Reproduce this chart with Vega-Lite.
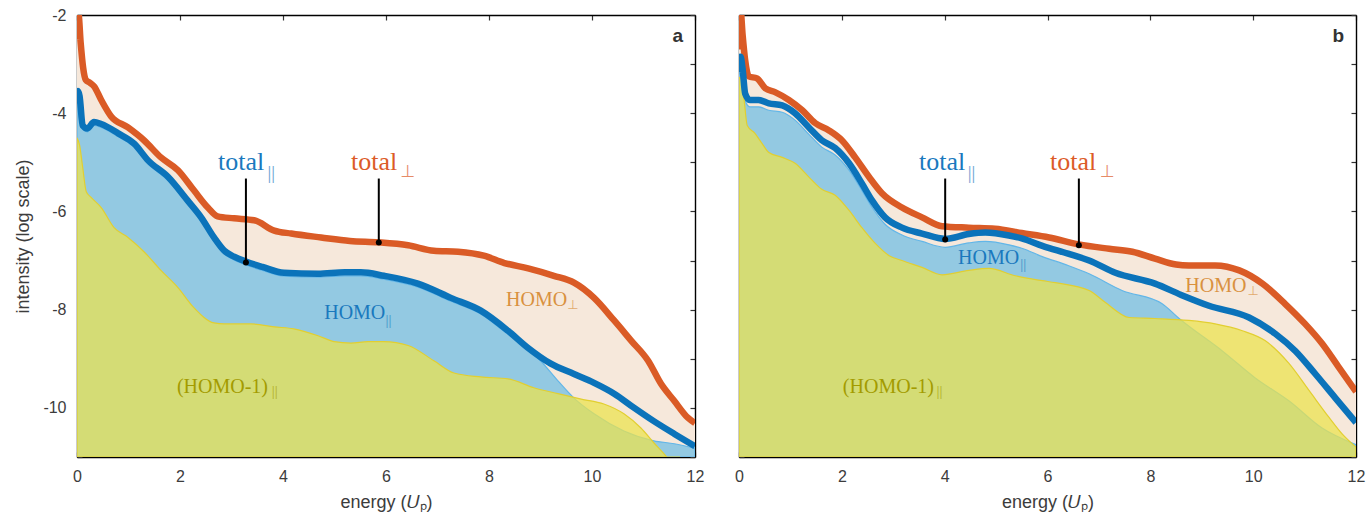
{
"$schema":"https://vega.github.io/schema/vega-lite/v6.json",
"background":"white",
"padding":{"left":14,"top":7,"right":5,"bottom":2},
"spacing":30,
"config":{
 "view":{"stroke":null},
 "axis":{"domainColor":"#000","domainWidth":1.4,"tickColor":"#333","tickSize":-5,"tickWidth":1.2,"labelFont":"Liberation Sans","labelFontSize":16,"labelColor":"#3c3c3c","titleFont":"Liberation Sans","titleFontSize":18,"titleColor":"#3c3c3c","titleFontWeight":"normal","grid":false,"labelPadding":16,"labelFlush":false}
},
"datasets":{
"curves":[
{"p":"a","s":"tperp","x":0,"y":-2.5},{"p":"a","s":"tperp","x":0.03,"y":-2.0},{"p":"a","s":"tperp","x":0.07,"y":-2.55},{"p":"a","s":"tperp","x":0.12,"y":-3.08},{"p":"a","s":"tperp","x":0.17,"y":-3.32},{"p":"a","s":"tperp","x":0.25,"y":-3.38},{"p":"a","s":"tperp","x":0.33,"y":-3.45},{"p":"a","s":"tperp","x":0.47,"y":-3.73},{"p":"a","s":"tperp","x":0.66,"y":-4.06},{"p":"a","s":"tperp","x":0.99,"y":-4.29},{"p":"a","s":"tperp","x":1.3,"y":-4.55},{"p":"a","s":"tperp","x":1.63,"y":-4.9},{"p":"a","s":"tperp","x":1.96,"y":-5.16},{"p":"a","s":"tperp","x":2.27,"y":-5.57},{"p":"a","s":"tperp","x":2.54,"y":-5.92},{"p":"a","s":"tperp","x":2.73,"y":-6.1},{"p":"a","s":"tperp","x":3.05,"y":-6.14},{"p":"a","s":"tperp","x":3.44,"y":-6.18},{"p":"a","s":"tperp","x":3.83,"y":-6.39},{"p":"a","s":"tperp","x":4.16,"y":-6.45},{"p":"a","s":"tperp","x":4.74,"y":-6.53},{"p":"a","s":"tperp","x":5.3,"y":-6.6},{"p":"a","s":"tperp","x":5.86,"y":-6.63},{"p":"a","s":"tperp","x":6.43,"y":-6.69},{"p":"a","s":"tperp","x":6.93,"y":-6.8},{"p":"a","s":"tperp","x":7.4,"y":-6.82},{"p":"a","s":"tperp","x":7.9,"y":-6.9},{"p":"a","s":"tperp","x":8.3,"y":-7.05},{"p":"a","s":"tperp","x":8.76,"y":-7.16},{"p":"a","s":"tperp","x":9.26,"y":-7.31},{"p":"a","s":"tperp","x":9.65,"y":-7.45},{"p":"a","s":"tperp","x":10.04,"y":-7.76},{"p":"a","s":"tperp","x":10.43,"y":-8.22},{"p":"a","s":"tperp","x":10.76,"y":-8.63},{"p":"a","s":"tperp","x":11.09,"y":-9.04},{"p":"a","s":"tperp","x":11.34,"y":-9.51},{"p":"a","s":"tperp","x":11.6,"y":-9.86},{"p":"a","s":"tperp","x":11.86,"y":-10.2},{"p":"a","s":"tperp","x":12,"y":-10.31},
{"p":"a","s":"tpar","x":0,"y":-3.8},{"p":"a","s":"tpar","x":0.02,"y":-3.55},{"p":"a","s":"tpar","x":0.05,"y":-3.65},{"p":"a","s":"tpar","x":0.11,"y":-4.25},{"p":"a","s":"tpar","x":0.2,"y":-4.31},{"p":"a","s":"tpar","x":0.33,"y":-4.18},{"p":"a","s":"tpar","x":0.47,"y":-4.22},{"p":"a","s":"tpar","x":0.8,"y":-4.41},{"p":"a","s":"tpar","x":1.11,"y":-4.62},{"p":"a","s":"tpar","x":1.38,"y":-4.96},{"p":"a","s":"tpar","x":1.77,"y":-5.3},{"p":"a","s":"tpar","x":2.15,"y":-5.78},{"p":"a","s":"tpar","x":2.41,"y":-6.12},{"p":"a","s":"tpar","x":2.66,"y":-6.53},{"p":"a","s":"tpar","x":2.86,"y":-6.8},{"p":"a","s":"tpar","x":3.05,"y":-6.92},{"p":"a","s":"tpar","x":3.28,"y":-7.02},{"p":"a","s":"tpar","x":3.6,"y":-7.13},{"p":"a","s":"tpar","x":4.02,"y":-7.25},{"p":"a","s":"tpar","x":4.68,"y":-7.27},{"p":"a","s":"tpar","x":5.2,"y":-7.24},{"p":"a","s":"tpar","x":5.51,"y":-7.24},{"p":"a","s":"tpar","x":5.96,"y":-7.31},{"p":"a","s":"tpar","x":6.62,"y":-7.47},{"p":"a","s":"tpar","x":7.26,"y":-7.76},{"p":"a","s":"tpar","x":7.84,"y":-8.02},{"p":"a","s":"tpar","x":8.37,"y":-8.43},{"p":"a","s":"tpar","x":8.76,"y":-8.78},{"p":"a","s":"tpar","x":9.2,"y":-9.1},{"p":"a","s":"tpar","x":9.65,"y":-9.31},{"p":"a","s":"tpar","x":10.04,"y":-9.49},{"p":"a","s":"tpar","x":10.43,"y":-9.71},{"p":"a","s":"tpar","x":10.82,"y":-10.0},{"p":"a","s":"tpar","x":11.2,"y":-10.27},{"p":"a","s":"tpar","x":11.6,"y":-10.53},{"p":"a","s":"tpar","x":12,"y":-10.78},
{"p":"a","s":"hpar","x":0,"y":-3.9},{"p":"a","s":"hpar","x":0.02,"y":-3.62},{"p":"a","s":"hpar","x":0.05,"y":-3.72},{"p":"a","s":"hpar","x":0.11,"y":-4.33},{"p":"a","s":"hpar","x":0.2,"y":-4.38},{"p":"a","s":"hpar","x":0.33,"y":-4.25},{"p":"a","s":"hpar","x":0.47,"y":-4.29},{"p":"a","s":"hpar","x":0.8,"y":-4.48},{"p":"a","s":"hpar","x":1.11,"y":-4.69},{"p":"a","s":"hpar","x":1.38,"y":-5.03},{"p":"a","s":"hpar","x":1.77,"y":-5.37},{"p":"a","s":"hpar","x":2.15,"y":-5.85},{"p":"a","s":"hpar","x":2.41,"y":-6.19},{"p":"a","s":"hpar","x":2.66,"y":-6.6},{"p":"a","s":"hpar","x":2.86,"y":-6.87},{"p":"a","s":"hpar","x":3.05,"y":-6.99},{"p":"a","s":"hpar","x":3.28,"y":-7.09},{"p":"a","s":"hpar","x":3.6,"y":-7.2},{"p":"a","s":"hpar","x":4.02,"y":-7.32},{"p":"a","s":"hpar","x":4.68,"y":-7.34},{"p":"a","s":"hpar","x":5.2,"y":-7.31},{"p":"a","s":"hpar","x":5.51,"y":-7.31},{"p":"a","s":"hpar","x":5.96,"y":-7.38},{"p":"a","s":"hpar","x":6.62,"y":-7.54},{"p":"a","s":"hpar","x":7.26,"y":-7.83},{"p":"a","s":"hpar","x":7.84,"y":-8.09},{"p":"a","s":"hpar","x":8.37,"y":-8.5},{"p":"a","s":"hpar","x":8.62,"y":-8.68},{"p":"a","s":"hpar","x":9.0,"y":-9.04},{"p":"a","s":"hpar","x":9.34,"y":-9.45},{"p":"a","s":"hpar","x":9.65,"y":-9.8},{"p":"a","s":"hpar","x":10.04,"y":-10.12},{"p":"a","s":"hpar","x":10.62,"y":-10.47},{"p":"a","s":"hpar","x":11.2,"y":-10.67},{"p":"a","s":"hpar","x":11.6,"y":-10.73},{"p":"a","s":"hpar","x":12,"y":-10.82},
{"p":"a","s":"h1","x":0,"y":-4.5},{"p":"a","s":"h1","x":0.05,"y":-4.65},{"p":"a","s":"h1","x":0.11,"y":-5.1},{"p":"a","s":"h1","x":0.18,"y":-5.6},{"p":"a","s":"h1","x":0.27,"y":-5.71},{"p":"a","s":"h1","x":0.47,"y":-5.92},{"p":"a","s":"h1","x":0.72,"y":-6.33},{"p":"a","s":"h1","x":0.99,"y":-6.53},{"p":"a","s":"h1","x":1.3,"y":-6.82},{"p":"a","s":"h1","x":1.63,"y":-7.2},{"p":"a","s":"h1","x":1.96,"y":-7.55},{"p":"a","s":"h1","x":2.27,"y":-7.96},{"p":"a","s":"h1","x":2.66,"y":-8.27},{"p":"a","s":"h1","x":2.86,"y":-8.29},{"p":"a","s":"h1","x":3.38,"y":-8.29},{"p":"a","s":"h1","x":3.83,"y":-8.35},{"p":"a","s":"h1","x":4.21,"y":-8.39},{"p":"a","s":"h1","x":4.68,"y":-8.53},{"p":"a","s":"h1","x":4.99,"y":-8.65},{"p":"a","s":"h1","x":5.32,"y":-8.68},{"p":"a","s":"h1","x":5.65,"y":-8.65},{"p":"a","s":"h1","x":5.96,"y":-8.65},{"p":"a","s":"h1","x":6.43,"y":-8.73},{"p":"a","s":"h1","x":6.93,"y":-9.04},{"p":"a","s":"h1","x":7.32,"y":-9.29},{"p":"a","s":"h1","x":7.84,"y":-9.37},{"p":"a","s":"h1","x":8.37,"y":-9.41},{"p":"a","s":"h1","x":8.87,"y":-9.59},{"p":"a","s":"h1","x":9.34,"y":-9.71},{"p":"a","s":"h1","x":9.79,"y":-9.82},{"p":"a","s":"h1","x":10.23,"y":-9.92},{"p":"a","s":"h1","x":10.62,"y":-10.12},{"p":"a","s":"h1","x":10.95,"y":-10.41},{"p":"a","s":"h1","x":11.2,"y":-10.71},{"p":"a","s":"h1","x":11.48,"y":-11.04},{"p":"a","s":"h1","x":11.7,"y":-11.4},
{"p":"b","s":"tperp","x":0,"y":-2.7},{"p":"b","s":"tperp","x":0.03,"y":-1.9},{"p":"b","s":"tperp","x":0.07,"y":-2.4},{"p":"b","s":"tperp","x":0.12,"y":-2.92},{"p":"b","s":"tperp","x":0.19,"y":-3.25},{"p":"b","s":"tperp","x":0.35,"y":-3.29},{"p":"b","s":"tperp","x":0.51,"y":-3.49},{"p":"b","s":"tperp","x":0.7,"y":-3.57},{"p":"b","s":"tperp","x":0.97,"y":-3.73},{"p":"b","s":"tperp","x":1.23,"y":-3.94},{"p":"b","s":"tperp","x":1.48,"y":-4.2},{"p":"b","s":"tperp","x":1.75,"y":-4.35},{"p":"b","s":"tperp","x":2.0,"y":-4.55},{"p":"b","s":"tperp","x":2.26,"y":-4.9},{"p":"b","s":"tperp","x":2.53,"y":-5.3},{"p":"b","s":"tperp","x":2.78,"y":-5.63},{"p":"b","s":"tperp","x":3.17,"y":-5.92},{"p":"b","s":"tperp","x":3.56,"y":-6.12},{"p":"b","s":"tperp","x":3.95,"y":-6.3},{"p":"b","s":"tperp","x":4.47,"y":-6.33},{"p":"b","s":"tperp","x":4.98,"y":-6.35},{"p":"b","s":"tperp","x":5.5,"y":-6.44},{"p":"b","s":"tperp","x":6.03,"y":-6.53},{"p":"b","s":"tperp","x":6.61,"y":-6.67},{"p":"b","s":"tperp","x":7.2,"y":-6.76},{"p":"b","s":"tperp","x":7.65,"y":-6.82},{"p":"b","s":"tperp","x":8.09,"y":-6.96},{"p":"b","s":"tperp","x":8.5,"y":-7.08},{"p":"b","s":"tperp","x":8.75,"y":-7.1},{"p":"b","s":"tperp","x":9.26,"y":-7.1},{"p":"b","s":"tperp","x":9.73,"y":-7.2},{"p":"b","s":"tperp","x":10.18,"y":-7.47},{"p":"b","s":"tperp","x":10.62,"y":-7.88},{"p":"b","s":"tperp","x":11.01,"y":-8.29},{"p":"b","s":"tperp","x":11.34,"y":-8.69},{"p":"b","s":"tperp","x":11.67,"y":-9.18},{"p":"b","s":"tperp","x":12,"y":-9.67},
{"p":"b","s":"tpar","x":0,"y":-3.16},{"p":"b","s":"tpar","x":0.03,"y":-2.85},{"p":"b","s":"tpar","x":0.07,"y":-3.1},{"p":"b","s":"tpar","x":0.12,"y":-3.6},{"p":"b","s":"tpar","x":0.21,"y":-3.73},{"p":"b","s":"tpar","x":0.38,"y":-3.73},{"p":"b","s":"tpar","x":0.58,"y":-3.8},{"p":"b","s":"tpar","x":0.84,"y":-3.84},{"p":"b","s":"tpar","x":1.09,"y":-4.0},{"p":"b","s":"tpar","x":1.36,"y":-4.29},{"p":"b","s":"tpar","x":1.61,"y":-4.55},{"p":"b","s":"tpar","x":1.87,"y":-4.71},{"p":"b","s":"tpar","x":2.14,"y":-5.02},{"p":"b","s":"tpar","x":2.39,"y":-5.43},{"p":"b","s":"tpar","x":2.59,"y":-5.78},{"p":"b","s":"tpar","x":2.84,"y":-6.12},{"p":"b","s":"tpar","x":3.17,"y":-6.33},{"p":"b","s":"tpar","x":3.56,"y":-6.45},{"p":"b","s":"tpar","x":4.01,"y":-6.56},{"p":"b","s":"tpar","x":4.47,"y":-6.46},{"p":"b","s":"tpar","x":4.79,"y":-6.43},{"p":"b","s":"tpar","x":5.25,"y":-6.49},{"p":"b","s":"tpar","x":5.5,"y":-6.55},{"p":"b","s":"tpar","x":5.9,"y":-6.7},{"p":"b","s":"tpar","x":6.4,"y":-6.86},{"p":"b","s":"tpar","x":6.81,"y":-7.0},{"p":"b","s":"tpar","x":7.32,"y":-7.25},{"p":"b","s":"tpar","x":8.09,"y":-7.47},{"p":"b","s":"tpar","x":8.6,"y":-7.7},{"p":"b","s":"tpar","x":9.14,"y":-7.92},{"p":"b","s":"tpar","x":9.92,"y":-8.16},{"p":"b","s":"tpar","x":10.43,"y":-8.49},{"p":"b","s":"tpar","x":10.82,"y":-8.84},{"p":"b","s":"tpar","x":11.21,"y":-9.31},{"p":"b","s":"tpar","x":11.6,"y":-9.8},{"p":"b","s":"tpar","x":12,"y":-10.3},
{"p":"b","s":"hpar","x":0,"y":-3.3},{"p":"b","s":"hpar","x":0.03,"y":-3.0},{"p":"b","s":"hpar","x":0.07,"y":-3.25},{"p":"b","s":"hpar","x":0.12,"y":-3.74},{"p":"b","s":"hpar","x":0.21,"y":-3.87},{"p":"b","s":"hpar","x":0.38,"y":-3.87},{"p":"b","s":"hpar","x":0.58,"y":-3.94},{"p":"b","s":"hpar","x":0.84,"y":-3.98},{"p":"b","s":"hpar","x":1.09,"y":-4.14},{"p":"b","s":"hpar","x":1.36,"y":-4.43},{"p":"b","s":"hpar","x":1.61,"y":-4.69},{"p":"b","s":"hpar","x":1.87,"y":-4.85},{"p":"b","s":"hpar","x":2.14,"y":-5.16},{"p":"b","s":"hpar","x":2.39,"y":-5.57},{"p":"b","s":"hpar","x":2.59,"y":-5.92},{"p":"b","s":"hpar","x":2.84,"y":-6.26},{"p":"b","s":"hpar","x":3.17,"y":-6.48},{"p":"b","s":"hpar","x":3.56,"y":-6.61},{"p":"b","s":"hpar","x":4.01,"y":-6.73},{"p":"b","s":"hpar","x":4.47,"y":-6.64},{"p":"b","s":"hpar","x":4.79,"y":-6.61},{"p":"b","s":"hpar","x":5.25,"y":-6.68},{"p":"b","s":"hpar","x":5.5,"y":-6.75},{"p":"b","s":"hpar","x":5.9,"y":-6.92},{"p":"b","s":"hpar","x":6.4,"y":-7.1},{"p":"b","s":"hpar","x":6.81,"y":-7.27},{"p":"b","s":"hpar","x":7.45,"y":-7.61},{"p":"b","s":"hpar","x":8.23,"y":-7.88},{"p":"b","s":"hpar","x":8.56,"y":-8.18},{"p":"b","s":"hpar","x":9.4,"y":-8.84},{"p":"b","s":"hpar","x":10.04,"y":-9.39},{"p":"b","s":"hpar","x":10.7,"y":-9.86},{"p":"b","s":"hpar","x":11.34,"y":-10.41},{"p":"b","s":"hpar","x":12,"y":-10.75},
{"p":"b","s":"h1","x":0,"y":-3.27},{"p":"b","s":"h1","x":0.05,"y":-3.3},{"p":"b","s":"h1","x":0.1,"y":-3.73},{"p":"b","s":"h1","x":0.16,"y":-4.25},{"p":"b","s":"h1","x":0.31,"y":-4.41},{"p":"b","s":"h1","x":0.45,"y":-4.62},{"p":"b","s":"h1","x":0.58,"y":-4.8},{"p":"b","s":"h1","x":0.84,"y":-4.9},{"p":"b","s":"h1","x":1.09,"y":-5.02},{"p":"b","s":"h1","x":1.36,"y":-5.3},{"p":"b","s":"h1","x":1.61,"y":-5.55},{"p":"b","s":"h1","x":1.87,"y":-5.67},{"p":"b","s":"h1","x":2.14,"y":-5.98},{"p":"b","s":"h1","x":2.39,"y":-6.33},{"p":"b","s":"h1","x":2.65,"y":-6.65},{"p":"b","s":"h1","x":2.92,"y":-6.9},{"p":"b","s":"h1","x":3.17,"y":-7.0},{"p":"b","s":"h1","x":3.56,"y":-7.14},{"p":"b","s":"h1","x":3.95,"y":-7.29},{"p":"b","s":"h1","x":4.47,"y":-7.2},{"p":"b","s":"h1","x":4.86,"y":-7.16},{"p":"b","s":"h1","x":5.37,"y":-7.31},{"p":"b","s":"h1","x":5.9,"y":-7.41},{"p":"b","s":"h1","x":6.15,"y":-7.45},{"p":"b","s":"h1","x":6.81,"y":-7.61},{"p":"b","s":"h1","x":7.12,"y":-7.85},{"p":"b","s":"h1","x":7.59,"y":-8.16},{"p":"b","s":"h1","x":8.09,"y":-8.18},{"p":"b","s":"h1","x":8.75,"y":-8.22},{"p":"b","s":"h1","x":9.26,"y":-8.29},{"p":"b","s":"h1","x":9.79,"y":-8.43},{"p":"b","s":"h1","x":10.23,"y":-8.63},{"p":"b","s":"h1","x":10.7,"y":-9.1},{"p":"b","s":"h1","x":11.09,"y":-9.65},{"p":"b","s":"h1","x":11.48,"y":-10.2},{"p":"b","s":"h1","x":11.73,"y":-10.53},{"p":"b","s":"h1","x":12,"y":-10.8}
],
"labels":[
{"p":"a","g":"big","k":"par","t":"total","x":2.74,"y":-5.16},{"p":"a","g":"big","k":"perp","t":"total","x":5.32,"y":-5.16},
{"p":"b","g":"big","k":"par","t":"total","x":3.5,"y":-5.16},{"p":"b","g":"big","k":"perp","t":"total","x":6.05,"y":-5.16},
{"p":"a","g":"bigbar","k":"par","t":"||","x":3.7,"y":-5.33},{"p":"b","g":"bigbar","k":"par","t":"||","x":4.45,"y":-5.33},
{"p":"a","g":"bigperp","k":"perp","t":"⊥","x":6.28,"y":-5.29},{"p":"b","g":"bigperp","k":"perp","t":"⊥","x":7.02,"y":-5.29},
{"p":"a","g":"mid","k":"par","t":"HOMO","x":4.8,"y":-8.18},{"p":"a","g":"mid","k":"hperp","t":"HOMO","x":8.33,"y":-7.92},{"p":"a","g":"mid","k":"h1","t":"(HOMO-1)","x":1.94,"y":-9.69},
{"p":"b","g":"mid","k":"par","t":"HOMO","x":4.26,"y":-7.06},{"p":"b","g":"mid","k":"hperp","t":"HOMO","x":8.68,"y":-7.65},{"p":"b","g":"mid","k":"h1","t":"(HOMO-1)","x":2.02,"y":-9.69},
{"p":"a","g":"midbar","k":"par","t":"||","x":5.99,"y":-8.31},{"p":"a","g":"midbar","k":"h1","t":"||","x":3.78,"y":-9.76},
{"p":"b","g":"midbar","k":"par","t":"||","x":5.47,"y":-7.18},{"p":"b","g":"midbar","k":"h1","t":"||","x":3.84,"y":-9.76},
{"p":"a","g":"midperp","k":"hperp","t":"⊥","x":9.52,"y":-7.98},{"p":"b","g":"midperp","k":"hperp","t":"⊥","x":9.89,"y":-7.71},
{"p":"a","g":"panel","k":"panel","t":"a","x":11.77,"y":-2.55},{"p":"b","g":"panel","k":"panel","t":"b","x":11.77,"y":-2.55}
],
"leaders":[
{"p":"a","x":3.28,"y1":-5.33,"y2":-7.04},{"p":"a","x":5.86,"y1":-5.33,"y2":-6.63},
{"p":"b","x":4.01,"y1":-5.33,"y2":-6.57},{"p":"b","x":6.61,"y1":-5.33,"y2":-6.69}
]
},
"hconcat":[
{
"width":618,"height":442,
"resolve":{"axis":{"x":"independent","y":"independent"}},
"layer":[
{"data":{"name":"curves"},"transform":[{"filter":"datum.p=='a' && datum.s=='tperp'"}],
 "mark":{"type":"area","color":"#F6E8DB","interpolate":"monotone","clip":true},
 "encoding":{
  "x":{"field":"x","type":"quantitative","scale":{"domain":[0,12],"nice":false},"axis":{"orient":"bottom","values":[0,2,4,6,8,10,12],"title":"energy (𝑈ₚ)","titlePadding":9}},
  "y":{"field":"y","type":"quantitative","scale":{"domain":[-11,-2],"nice":false,"zero":false},"axis":{"orient":"left","values":[-11,-10,-9,-8,-7,-6,-5,-4,-3,-2],"labelExpr":"datum.value % 2 == 0 ? replace(datum.label, '\u2212', '-') : ''","title":"intensity (log scale)","titlePadding":10}},
  "y2":{"datum":-11}}},
{"data":{"name":"curves"},"transform":[{"filter":"datum.p=='a' && datum.s=='hpar'"}],
 "mark":{"type":"area","color":"#93C9E2","stroke":"#62B6E8","strokeWidth":1.2,"interpolate":"monotone","clip":true},
 "encoding":{
  "x":{"field":"x","type":"quantitative","scale":{"domain":[0,12],"nice":false},"axis":{"orient":"top","values":[0,2,4,6,8,10,12],"labels":false,"title":null}},
  "y":{"field":"y","type":"quantitative","scale":{"domain":[-11,-2],"nice":false,"zero":false},"axis":{"orient":"right","values":[-11,-10,-9,-8,-7,-6,-5,-4,-3,-2],"labels":false,"title":null}},
  "y2":{"datum":-11}}},
{"data":{"name":"curves"},"transform":[{"filter":"datum.p=='a' && datum.s=='h1'"}],
 "mark":{"type":"area","color":"#EBE24E","fillOpacity":0.74,"stroke":"#E2CF30","strokeWidth":1.2,"interpolate":"monotone","clip":true},
 "encoding":{
  "x":{"field":"x","type":"quantitative","scale":{"domain":[0,12],"nice":false},"axis":null},
  "y":{"field":"y","type":"quantitative","scale":{"domain":[-11,-2],"nice":false,"zero":false},"axis":null},
  "y2":{"datum":-11}}},
{"data":{"name":"curves"},"transform":[{"filter":"datum.p=='a' && datum.s=='tperp'"}],
 "mark":{"type":"line","color":"#DA5B26","strokeWidth":6.5,"interpolate":"monotone","clip":true},
 "encoding":{
  "x":{"field":"x","type":"quantitative","scale":{"domain":[0,12],"nice":false},"axis":null},
  "y":{"field":"y","type":"quantitative","scale":{"domain":[-11,-2],"nice":false,"zero":false},"axis":null}}},
{"data":{"name":"curves"},"transform":[{"filter":"datum.p=='a' && datum.s=='tpar'"}],
 "mark":{"type":"line","color":"#0B73BA","strokeWidth":6.5,"interpolate":"monotone","clip":true},
 "encoding":{
  "x":{"field":"x","type":"quantitative","scale":{"domain":[0,12],"nice":false},"axis":null},
  "y":{"field":"y","type":"quantitative","scale":{"domain":[-11,-2],"nice":false,"zero":false},"axis":null}}},
{"data":{"name":"leaders"},"transform":[{"filter":"datum.p=='a'"}],
 "mark":{"type":"rule","color":"#000","strokeWidth":2},
 "encoding":{
  "x":{"field":"x","type":"quantitative","scale":{"domain":[0,12],"nice":false},"axis":null},
  "y":{"field":"y1","type":"quantitative","scale":{"domain":[-11,-2],"nice":false,"zero":false},"axis":null},
  "y2":{"field":"y2"}}},
{"data":{"name":"leaders"},"transform":[{"filter":"datum.p=='a'"}],
 "mark":{"type":"point","filled":true,"color":"#000","size":36,"opacity":1},
 "encoding":{
  "x":{"field":"x","type":"quantitative","scale":{"domain":[0,12],"nice":false},"axis":null},
  "y":{"field":"y2","type":"quantitative","scale":{"domain":[-11,-2],"nice":false,"zero":false},"axis":null}}},
{"data":{"name":"labels"},"transform":[{"filter":"datum.p=='a' && datum.g=='big'"}],
 "mark":{"type":"text","font":"Liberation Serif","fontSize":26,"align":"left","baseline":"alphabetic"},
 "encoding":{
  "x":{"field":"x","type":"quantitative","scale":{"domain":[0,12],"nice":false},"axis":null},
  "y":{"field":"y","type":"quantitative","scale":{"domain":[-11,-2],"nice":false,"zero":false},"axis":null},
  "text":{"field":"t"},
  "color":{"field":"k","type":"nominal","scale":{"domain":["par","perp","hperp","h1","panel"],"range":["#1A79BE","#DC5B27","#D9913F","#A39B00","#333333"]},"legend":null}}},
{"data":{"name":"labels"},"transform":[{"filter":"datum.p=='a' && datum.g=='bigbar'"}],
 "mark":{"type":"text","font":"Liberation Serif","fontSize":19,"align":"left","baseline":"alphabetic","opacity":0.7},
 "encoding":{
  "x":{"field":"x","type":"quantitative","scale":{"domain":[0,12],"nice":false},"axis":null},
  "y":{"field":"y","type":"quantitative","scale":{"domain":[-11,-2],"nice":false,"zero":false},"axis":null},
  "text":{"field":"t"},
  "color":{"field":"k","type":"nominal","legend":null}}},
{"data":{"name":"labels"},"transform":[{"filter":"datum.p=='a' && datum.g=='bigperp'"}],
 "mark":{"type":"text","font":"DejaVu Sans","fontSize":17,"align":"left","baseline":"alphabetic","opacity":0.7},
 "encoding":{
  "x":{"field":"x","type":"quantitative","scale":{"domain":[0,12],"nice":false},"axis":null},
  "y":{"field":"y","type":"quantitative","scale":{"domain":[-11,-2],"nice":false,"zero":false},"axis":null},
  "text":{"field":"t"},
  "color":{"field":"k","type":"nominal","legend":null}}},
{"data":{"name":"labels"},"transform":[{"filter":"datum.p=='a' && datum.g=='mid'"}],
 "mark":{"type":"text","font":"Liberation Serif","fontSize":20,"align":"left","baseline":"alphabetic"},
 "encoding":{
  "x":{"field":"x","type":"quantitative","scale":{"domain":[0,12],"nice":false},"axis":null},
  "y":{"field":"y","type":"quantitative","scale":{"domain":[-11,-2],"nice":false,"zero":false},"axis":null},
  "text":{"field":"t"},
  "color":{"field":"k","type":"nominal","legend":null}}},
{"data":{"name":"labels"},"transform":[{"filter":"datum.p=='a' && datum.g=='midbar'"}],
 "mark":{"type":"text","font":"Liberation Serif","fontSize":15,"align":"left","baseline":"alphabetic","opacity":0.7},
 "encoding":{
  "x":{"field":"x","type":"quantitative","scale":{"domain":[0,12],"nice":false},"axis":null},
  "y":{"field":"y","type":"quantitative","scale":{"domain":[-11,-2],"nice":false,"zero":false},"axis":null},
  "text":{"field":"t"},
  "color":{"field":"k","type":"nominal","legend":null}}},
{"data":{"name":"labels"},"transform":[{"filter":"datum.p=='a' && datum.g=='midperp'"}],
 "mark":{"type":"text","font":"DejaVu Sans","fontSize":13,"align":"left","baseline":"alphabetic","opacity":0.7},
 "encoding":{
  "x":{"field":"x","type":"quantitative","scale":{"domain":[0,12],"nice":false},"axis":null},
  "y":{"field":"y","type":"quantitative","scale":{"domain":[-11,-2],"nice":false,"zero":false},"axis":null},
  "text":{"field":"t"},
  "color":{"field":"k","type":"nominal","legend":null}}},
{"data":{"name":"labels"},"transform":[{"filter":"datum.p=='a' && datum.g=='panel'"}],
 "mark":{"type":"text","font":"Liberation Sans","fontSize":19,"fontWeight":"bold","align":"right","baseline":"alphabetic"},
 "encoding":{
  "x":{"field":"x","type":"quantitative","scale":{"domain":[0,12],"nice":false},"axis":null},
  "y":{"field":"y","type":"quantitative","scale":{"domain":[-11,-2],"nice":false,"zero":false},"axis":null},
  "text":{"field":"t"},
  "color":{"field":"k","type":"nominal","legend":null}}}
]
},
{
"width":617,"height":442,
"resolve":{"axis":{"x":"independent","y":"independent"}},
"layer":[
{"data":{"name":"curves"},"transform":[{"filter":"datum.p=='b' && datum.s=='tperp'"}],
 "mark":{"type":"area","color":"#F6E8DB","interpolate":"monotone","clip":true},
 "encoding":{
  "x":{"field":"x","type":"quantitative","scale":{"domain":[0,12],"nice":false},"axis":{"orient":"bottom","values":[0,2,4,6,8,10,12],"title":"energy (𝑈ₚ)","titlePadding":9}},
  "y":{"field":"y","type":"quantitative","scale":{"domain":[-11,-2],"nice":false,"zero":false},"axis":{"orient":"left","values":[-11,-10,-9,-8,-7,-6,-5,-4,-3,-2],"labels":false,"title":null}},
  "y2":{"datum":-11}}},
{"data":{"name":"curves"},"transform":[{"filter":"datum.p=='b' && datum.s=='hpar'"}],
 "mark":{"type":"area","color":"#93C9E2","stroke":"#62B6E8","strokeWidth":1.2,"interpolate":"monotone","clip":true},
 "encoding":{
  "x":{"field":"x","type":"quantitative","scale":{"domain":[0,12],"nice":false},"axis":{"orient":"top","values":[0,2,4,6,8,10,12],"labels":false,"title":null}},
  "y":{"field":"y","type":"quantitative","scale":{"domain":[-11,-2],"nice":false,"zero":false},"axis":{"orient":"right","values":[-11,-10,-9,-8,-7,-6,-5,-4,-3,-2],"labels":false,"title":null}},
  "y2":{"datum":-11}}},
{"data":{"name":"curves"},"transform":[{"filter":"datum.p=='b' && datum.s=='h1'"}],
 "mark":{"type":"area","color":"#EBE24E","fillOpacity":0.74,"stroke":"#E2CF30","strokeWidth":1.2,"interpolate":"monotone","clip":true},
 "encoding":{
  "x":{"field":"x","type":"quantitative","scale":{"domain":[0,12],"nice":false},"axis":null},
  "y":{"field":"y","type":"quantitative","scale":{"domain":[-11,-2],"nice":false,"zero":false},"axis":null},
  "y2":{"datum":-11}}},
{"data":{"name":"curves"},"transform":[{"filter":"datum.p=='b' && datum.s=='tperp'"}],
 "mark":{"type":"line","color":"#DA5B26","strokeWidth":6.5,"interpolate":"monotone","clip":true},
 "encoding":{
  "x":{"field":"x","type":"quantitative","scale":{"domain":[0,12],"nice":false},"axis":null},
  "y":{"field":"y","type":"quantitative","scale":{"domain":[-11,-2],"nice":false,"zero":false},"axis":null}}},
{"data":{"name":"curves"},"transform":[{"filter":"datum.p=='b' && datum.s=='tpar'"}],
 "mark":{"type":"line","color":"#0B73BA","strokeWidth":6.5,"interpolate":"monotone","clip":true},
 "encoding":{
  "x":{"field":"x","type":"quantitative","scale":{"domain":[0,12],"nice":false},"axis":null},
  "y":{"field":"y","type":"quantitative","scale":{"domain":[-11,-2],"nice":false,"zero":false},"axis":null}}},
{"data":{"name":"leaders"},"transform":[{"filter":"datum.p=='b'"}],
 "mark":{"type":"rule","color":"#000","strokeWidth":2},
 "encoding":{
  "x":{"field":"x","type":"quantitative","scale":{"domain":[0,12],"nice":false},"axis":null},
  "y":{"field":"y1","type":"quantitative","scale":{"domain":[-11,-2],"nice":false,"zero":false},"axis":null},
  "y2":{"field":"y2"}}},
{"data":{"name":"leaders"},"transform":[{"filter":"datum.p=='b'"}],
 "mark":{"type":"point","filled":true,"color":"#000","size":36,"opacity":1},
 "encoding":{
  "x":{"field":"x","type":"quantitative","scale":{"domain":[0,12],"nice":false},"axis":null},
  "y":{"field":"y2","type":"quantitative","scale":{"domain":[-11,-2],"nice":false,"zero":false},"axis":null}}},
{"data":{"name":"labels"},"transform":[{"filter":"datum.p=='b' && datum.g=='big'"}],
 "mark":{"type":"text","font":"Liberation Serif","fontSize":26,"align":"left","baseline":"alphabetic"},
 "encoding":{
  "x":{"field":"x","type":"quantitative","scale":{"domain":[0,12],"nice":false},"axis":null},
  "y":{"field":"y","type":"quantitative","scale":{"domain":[-11,-2],"nice":false,"zero":false},"axis":null},
  "text":{"field":"t"},
  "color":{"field":"k","type":"nominal","scale":{"domain":["par","perp","hperp","h1","panel"],"range":["#1A79BE","#DC5B27","#D9913F","#A39B00","#333333"]},"legend":null}}},
{"data":{"name":"labels"},"transform":[{"filter":"datum.p=='b' && datum.g=='bigbar'"}],
 "mark":{"type":"text","font":"Liberation Serif","fontSize":19,"align":"left","baseline":"alphabetic","opacity":0.7},
 "encoding":{
  "x":{"field":"x","type":"quantitative","scale":{"domain":[0,12],"nice":false},"axis":null},
  "y":{"field":"y","type":"quantitative","scale":{"domain":[-11,-2],"nice":false,"zero":false},"axis":null},
  "text":{"field":"t"},
  "color":{"field":"k","type":"nominal","legend":null}}},
{"data":{"name":"labels"},"transform":[{"filter":"datum.p=='b' && datum.g=='bigperp'"}],
 "mark":{"type":"text","font":"DejaVu Sans","fontSize":17,"align":"left","baseline":"alphabetic","opacity":0.7},
 "encoding":{
  "x":{"field":"x","type":"quantitative","scale":{"domain":[0,12],"nice":false},"axis":null},
  "y":{"field":"y","type":"quantitative","scale":{"domain":[-11,-2],"nice":false,"zero":false},"axis":null},
  "text":{"field":"t"},
  "color":{"field":"k","type":"nominal","legend":null}}},
{"data":{"name":"labels"},"transform":[{"filter":"datum.p=='b' && datum.g=='mid'"}],
 "mark":{"type":"text","font":"Liberation Serif","fontSize":20,"align":"left","baseline":"alphabetic"},
 "encoding":{
  "x":{"field":"x","type":"quantitative","scale":{"domain":[0,12],"nice":false},"axis":null},
  "y":{"field":"y","type":"quantitative","scale":{"domain":[-11,-2],"nice":false,"zero":false},"axis":null},
  "text":{"field":"t"},
  "color":{"field":"k","type":"nominal","legend":null}}},
{"data":{"name":"labels"},"transform":[{"filter":"datum.p=='b' && datum.g=='midbar'"}],
 "mark":{"type":"text","font":"Liberation Serif","fontSize":15,"align":"left","baseline":"alphabetic","opacity":0.7},
 "encoding":{
  "x":{"field":"x","type":"quantitative","scale":{"domain":[0,12],"nice":false},"axis":null},
  "y":{"field":"y","type":"quantitative","scale":{"domain":[-11,-2],"nice":false,"zero":false},"axis":null},
  "text":{"field":"t"},
  "color":{"field":"k","type":"nominal","legend":null}}},
{"data":{"name":"labels"},"transform":[{"filter":"datum.p=='b' && datum.g=='midperp'"}],
 "mark":{"type":"text","font":"DejaVu Sans","fontSize":13,"align":"left","baseline":"alphabetic","opacity":0.7},
 "encoding":{
  "x":{"field":"x","type":"quantitative","scale":{"domain":[0,12],"nice":false},"axis":null},
  "y":{"field":"y","type":"quantitative","scale":{"domain":[-11,-2],"nice":false,"zero":false},"axis":null},
  "text":{"field":"t"},
  "color":{"field":"k","type":"nominal","legend":null}}},
{"data":{"name":"labels"},"transform":[{"filter":"datum.p=='b' && datum.g=='panel'"}],
 "mark":{"type":"text","font":"Liberation Sans","fontSize":19,"fontWeight":"bold","align":"right","baseline":"alphabetic"},
 "encoding":{
  "x":{"field":"x","type":"quantitative","scale":{"domain":[0,12],"nice":false},"axis":null},
  "y":{"field":"y","type":"quantitative","scale":{"domain":[-11,-2],"nice":false,"zero":false},"axis":null},
  "text":{"field":"t"},
  "color":{"field":"k","type":"nominal","legend":null}}}
]
}
]
}
